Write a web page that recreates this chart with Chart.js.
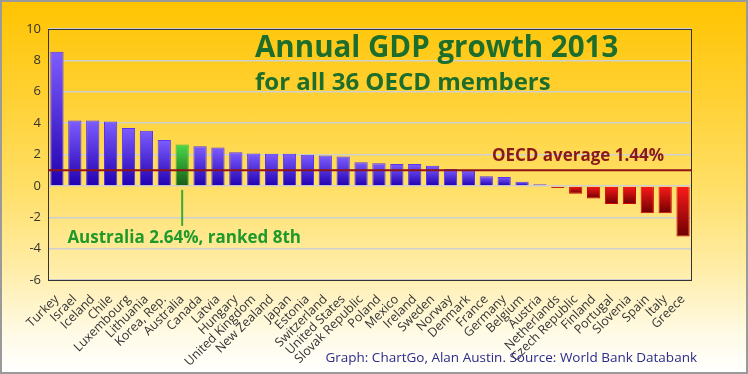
<!DOCTYPE html>
<html>
<head>
<meta charset="utf-8">
<title>Annual GDP growth 2013</title>
<script src="https://cdn.jsdelivr.net/npm/chart.js@4.4.0/dist/chart.umd.min.js"></script>
<style>
  html, body { margin: 0; padding: 0; background: #fff; }
  #wrap {
    width: 748px; height: 374px; position: relative;
    background: linear-gradient(to bottom, #ffc400 0%, #ffd031 25%, #ffdf66 50%, #ffeda8 72%, #fffbe8 90%, #ffffff 100%);
  }
</style>
</head>
<body>
<div id="wrap"><canvas id="gdpChart" width="748" height="374"></canvas></div>
<script>
(function () {
    "use strict";

    // countries, ordered as in the graph
    var countries = ['Turkey', 'Israel', 'Iceland', 'Chile', 'Luxembourg', 'Lithuania', 'Korea, Rep.',
        'Australia', 'Canada', 'Latvia', 'Hungary', 'United Kingdom', 'New Zealand', 'Japan',
        'Estonia', 'Switzerland', 'United States', 'Slovak Republic', 'Poland', 'Mexico', 'Ireland',
        'Sweden', 'Norway', 'Denmark', 'France', 'Germany', 'Belgium', 'Austria', 'Netherlands',
        'Czech Republic', 'Finland', 'Portugal', 'Slovenia', 'Spain', 'Italy', 'Greece'];

    // GDP growth 2013, %
    var growth = [8.55, 4.16, 4.16, 4.10, 3.69, 3.52, 2.93,
        2.64, 2.53, 2.44, 2.15, 2.06, 2.04, 2.04,
        1.99, 1.93, 1.87, 1.51, 1.44, 1.40, 1.40,
        1.29, 1.08, 0.96, 0.62, 0.57, 0.27, 0.10, -0.13,
        -0.50, -0.80, -1.16, -1.16, -1.74, -1.74, -3.23];

    var yMin = -6, yMax = 10, yStep = 2;

    var highlight = 'Australia';
    var highlightText = 'Australia 2.64%, ranked 8th';
    var avgLevel = 1.0;            // where the average line sits in the graph
    var avgText = 'OECD average 1.44%';

    var titleText = 'Annual GDP growth 2013';
    var subtitleText = 'for all 36 OECD members';
    var footerText = 'Graph: ChartGo, Alan Austin. Source: World Bank Databank';

    // gradient per bar: light at top, dark at bottom
    function barFill(c) {
        var chart = c.chart;
        if (!chart.chartArea || c.type !== 'data') return '#4020e0';
        var v = c.raw;
        var ys = chart.scales.y;
        var top = ys.getPixelForValue(Math.max(v, 0));
        var bot = ys.getPixelForValue(Math.min(v, 0));
        if (bot - top < 1) bot = top + 1;
        var g = chart.ctx.createLinearGradient(0, top, 0, bot);
        if (countries[c.dataIndex] === highlight) {
            g.addColorStop(0, '#4ad94a');
            g.addColorStop(1, '#175c17');
        } else if (v < 0) {
            g.addColorStop(0, '#ff1a1a');
            g.addColorStop(1, '#6e0000');
        } else {
            g.addColorStop(0, '#7d5dff');
            g.addColorStop(1, '#2100b0');
        }
        return g;
    }

    function barEdge(c) {
        if (countries[c.dataIndex] === highlight) return '#33bb33';
        return growth[c.dataIndex] < 0 ? '#d40000' : '#5535ee';
    }

    var overlay = {
        id: 'overlay',
        afterDatasetsDraw: function (chart) {
            var ctx = chart.ctx, a = chart.chartArea;
            var ys = chart.scales.y, xs = chart.scales.x;
            ctx.save();

            // plot frame
            ctx.strokeStyle = '#333';
            ctx.lineWidth = 1;
            ctx.strokeRect(a.left + 0.5, a.top + 0.5, a.right - a.left - 1, a.bottom - a.top);

            // average line
            var ay = ys.getPixelForValue(avgLevel);
            ctx.strokeStyle = '#8e1515';
            ctx.lineWidth = 2;
            ctx.beginPath();
            ctx.moveTo(a.left, ay);
            ctx.lineTo(a.right, ay);
            ctx.stroke();

            ctx.fillStyle = '#8a1a1a';
            ctx.font = 'bold 17px "Open Sans"';
            ctx.textAlign = 'center';
            ctx.textBaseline = 'alphabetic';
            ctx.fillText(avgText, 578, 161);

            // pointer to highlighted bar
            var hx = xs.getPixelForValue(countries.indexOf(highlight));
            var hy = ys.getPixelForValue(0);
            ctx.strokeStyle = '#3aaa3a';
            ctx.lineWidth = 2;
            ctx.beginPath();
            ctx.moveTo(hx, hy + 4);
            ctx.lineTo(hx, hy + 40);
            ctx.stroke();
            ctx.fillStyle = '#1f9a2a';
            ctx.font = 'bold 17px "Open Sans"';
            ctx.fillText(highlightText, hx + 2, 243);

            // title
            ctx.fillStyle = '#1d6e2c';
            ctx.textAlign = 'left';
            ctx.font = 'bold 29.5px "Open Sans"';
            ctx.fillText(titleText, 255, 57);
            ctx.font = 'bold 24px "Open Sans"';
            ctx.fillText(subtitleText, 255, 90);

            ctx.restore();
        },
        afterDraw: function (chart) {
            var ctx = chart.ctx;
            ctx.save();
            ctx.fillStyle = '#2b2b8c';
            ctx.font = '13.5px "Open Sans"';
            ctx.textAlign = 'right';
            ctx.fillText(footerText, 697, 362);
            ctx.strokeStyle = '#9a9a9a';
            ctx.lineWidth = 2;
            ctx.strokeRect(1, 1, chart.width - 2, chart.height - 2);
            ctx.restore();
        }
    };

    var ctx = document.getElementById('gdpChart');
    var myChart = new Chart(ctx, {
        type: 'bar',
        data: {
            labels: countries,
            datasets: [{
                data: growth,
                backgroundColor: barFill,
                borderColor: barEdge,
                borderWidth: 1,
                categoryPercentage: 1,
                barPercentage: 0.74
            }]
        },
        options: {
            responsive: false,
            animation: false,
            layout: { padding: { top: 29, right: 56, left: 0, bottom: 0 } },
            plugins: {
                legend: { display: false },
                tooltip: { enabled: false }
            },
            scales: {
                x: {
                    grid: { display: false },
                    border: { display: false },
                    ticks: {
                        autoSkip: false,
                        maxRotation: 45,
                        minRotation: 45,
                        padding: 4,
                        color: '#333',
                        font: { family: '"Open Sans"', size: 12.5 }
                    },
                    afterFit: function (s) { s.height = 94; }
                },
                y: {
                    min: yMin,
                    max: yMax,
                    grid: { color: '#cfcfcf', lineWidth: 1.5, drawTicks: false },
                    border: { display: false },
                    ticks: {
                        stepSize: yStep,
                        padding: 7,
                        color: '#333',
                        font: { family: '"Open Sans"', size: 13 }
                    },
                    afterFit: function (s) { s.width = 48; }
                }
            }
        },
        plugins: [overlay]
    });
})();
</script>
</body>
</html>
